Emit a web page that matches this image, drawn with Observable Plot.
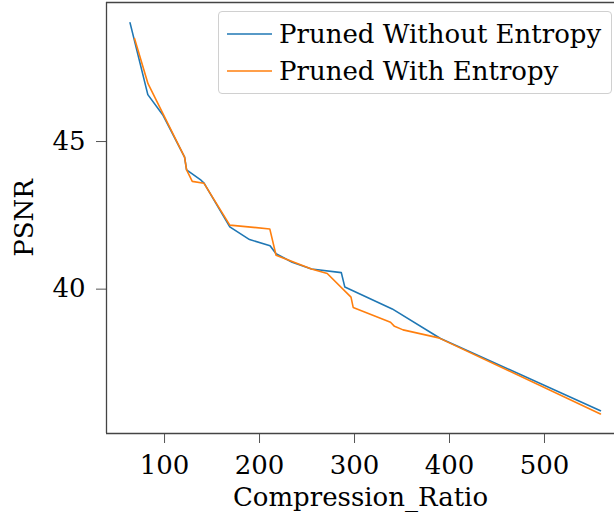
<!DOCTYPE html>
<html><head><meta charset="utf-8">
<script src="https://cdn.jsdelivr.net/npm/d3@7"></script>
<script src="https://cdn.jsdelivr.net/npm/@observablehq/plot@0.6"></script>
<style>
html,body{margin:0;padding:0;background:#fff;}
#chart{position:relative;width:614px;height:526px;overflow:hidden;}
#legend{position:absolute;left:218px;top:11px;width:394px;height:83px;border:1px solid #d0d0d0;border-radius:4px;background:rgba(255,255,255,0.85);box-sizing:border-box;font-family:"DejaVu Serif";font-size:26px;color:#000;padding-top:4px;}
.row{display:flex;align-items:center;height:36.5px;}
.row svg{margin-left:8px;margin-right:7px;}
</style></head><body><div id="chart"></div>
<script>
const seriesNames = ["Pruned Without Entropy", "Pruned With Entropy"];
const seriesColors = ["#1f77b4", "#ff7f0e"];
const xTicks = [100, 200, 300, 400, 500];
const yTicks = [40, 45];
const xLabel = "Compression_Ratio";
const yLabel = "PSNR";

const withoutX = [63.7, 82.4, 98.6, 121.1, 123.2, 138.4, 141.6, 168.7, 189.5, 211.1, 217.4, 234.4, 254.7, 286.1, 289.8, 339.7, 390.5, 558.9];
const withoutY = [49.02, 46.59, 45.88, 44.47, 44.04, 43.69, 43.59, 42.11, 41.68, 41.47, 41.20, 40.91, 40.68, 40.56, 40.07, 39.33, 38.33, 35.88];

const withX = [68.4, 82.6, 121.1, 123.2, 129.2, 141.4, 168.7, 210.8, 217.4, 254.7, 271.3, 296.3, 298.6, 337.9, 342.1, 351.1, 388.7, 558.9];
const withY = [48.49, 46.96, 44.47, 44.04, 43.65, 43.59, 42.17, 42.04, 41.15, 40.68, 40.53, 39.73, 39.38, 38.88, 38.74, 38.62, 38.35, 35.77];

const xDomain = [38.9, 573.7];
const yDomain = [35.11, 49.71];

const data = [];
withoutX.forEach((x, i) => data.push({series: seriesNames[0], x, y: withoutY[i]}));
withX.forEach((x, i) => data.push({series: seriesNames[1], x, y: withY[i]}));

const plot = Plot.plot({
  width: 614, height: 526,
  marginLeft: 106, marginRight: 0, marginTop: 2, marginBottom: 93,
  style: {fontFamily: "DejaVu Serif", fontSize: "26px", color: "#000", background: "#fff", overflow: "visible"},
  x: {domain: xDomain},
  y: {domain: yDomain},
  color: {domain: seriesNames, range: seriesColors},
  marks: [
    Plot.axisX({ticks: xTicks, tickSize: 10, tickPadding: 12, stroke: "#555", fill: "#000", label: xLabel, labelAnchor: "center", labelArrow: "none", labelOffset: 72}),
    Plot.axisY({ticks: yTicks, tickSize: 10, tickPadding: 11, stroke: "#555", fill: "#000", label: yLabel, labelAnchor: "center", labelArrow: "none", labelOffset: 92}),
    Plot.line(data, {x: "x", y: "y", z: "series", stroke: "series", strokeWidth: 1.6}),
    Plot.ruleX([xDomain[0]], {stroke: "#444", strokeWidth: 1.3}),
    Plot.ruleY(yDomain, {stroke: "#444", strokeWidth: 1.3})
  ]
});
const chart = document.getElementById("chart");
chart.appendChild(plot);

const legend = document.createElement("div");
legend.id = "legend";
seriesNames.forEach((name, i) => {
  const row = document.createElement("div");
  row.className = "row";
  row.innerHTML = `<svg width="45" height="4"><line x1="0" x2="45" y1="2" y2="2" stroke="${seriesColors[i]}" stroke-width="1.6"/></svg><span>${name}</span>`;
  legend.appendChild(row);
});
chart.appendChild(legend);
</script>
</body></html>
